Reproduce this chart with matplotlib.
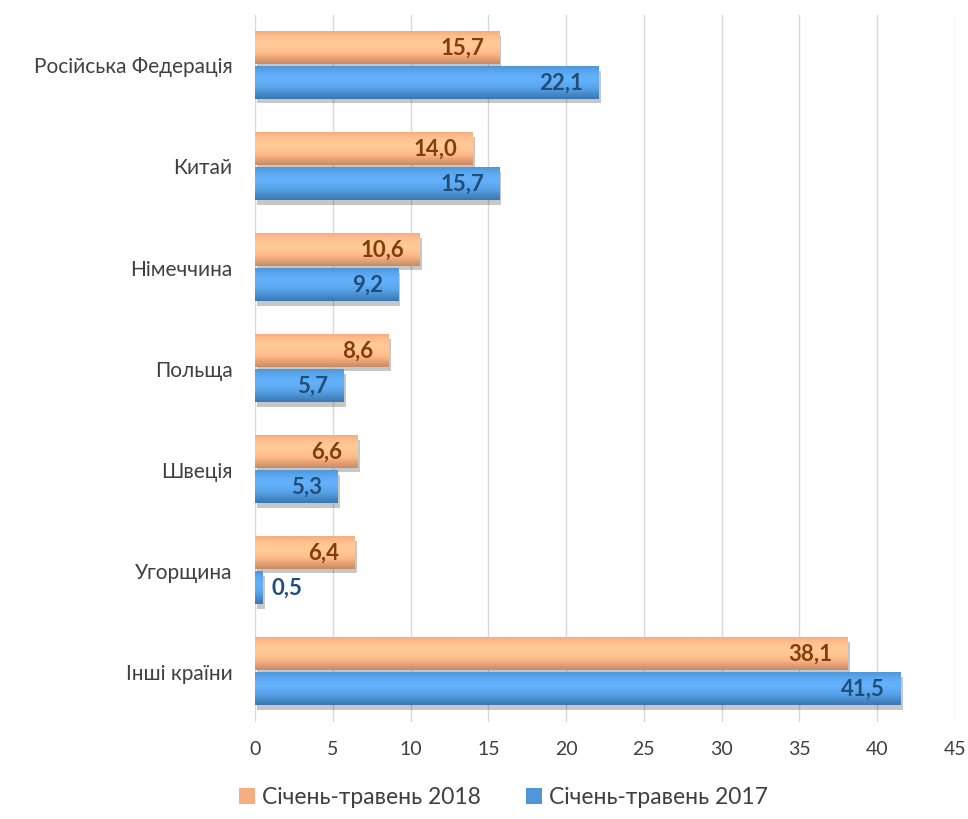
import matplotlib.pyplot as plt
import matplotlib.patheffects as pe
from matplotlib.colors import to_rgb
from matplotlib.patches import Patch
import numpy as np

plt.rcParams['font.family'] = ['Lato', 'DejaVu Sans']

categories = ["Російська Федерація", "Китай", "Німеччина", "Польща", "Швеція", "Угорщина", "Інші країни"]
values_2018 = [15.7, 14.0, 10.6, 8.6, 6.6, 6.4, 38.1]
values_2017 = [22.1, 15.7, 9.2, 5.7, 5.3, 0.5, 41.5]
label_2018 = "Січень-травень 2018"
label_2017 = "Січень-травень 2017"

orange = "#F4AE80"
blue = "#5097DA"
orange_text = "#843C0C"
blue_text = "#1F4E79"

fig = plt.figure(figsize=(9.68, 8.19), dpi=100)
ax = fig.add_axes([0.2634, 0.1184, 0.7232, 0.8633])

y = np.arange(len(categories))
h = 0.32
off = 0.175

shadow = [pe.SimplePatchShadow(offset=(1.5, -3), shadow_rgbFace="#000000", alpha=0.22), pe.Normal()]

b18 = ax.barh(y - off, values_2018, height=h, color=orange, linewidth=0, zorder=3)
b17 = ax.barh(y + off, values_2017, height=h, color=blue, linewidth=0, zorder=3)
for bars in (b18, b17):
    for r in bars:
        r.set_path_effects(shadow)

# soft vertical gradient on each bar
def gradient(col):
    c = np.array(to_rgb(col))
    t = np.linspace(0, 1, 32)
    # lighter towards the middle-top, darker at the bottom edge
    f = 1.0 + 0.10 * np.sin(np.pi * np.clip(t * 1.3, 0, 1)) - 0.12 * np.clip((t - 0.75) / 0.25, 0, 1)
    img = np.clip(c[None, :] * f[:, None] + (f[:, None] - 1) * 0.4, 0, 1)
    return img[:, None, :]

for vals, yy, col in ((values_2018, y - off, orange), (values_2017, y + off, blue)):
    g = gradient(col)
    for v, yi in zip(vals, yy):
        ax.imshow(g, extent=[0, v, yi + h / 2, yi - h / 2], aspect="auto", zorder=3.5,
                  interpolation="bilinear")

def fmt(v):
    return f"{v:.1f}".replace(".", ",")

for vals, yy, col in ((values_2018, y - off, orange_text), (values_2017, y + off, blue_text)):
    for v, yi in zip(vals, yy):
        if v < 2:
            ax.annotate(fmt(v), (v, yi), xytext=(6, 0), textcoords="offset points",
                        ha="left", va="center", fontsize=16, fontweight="bold", color=col, zorder=5)
        else:
            ax.annotate(fmt(v), (v, yi), xytext=(-11, 0), textcoords="offset points",
                        ha="right", va="center", fontsize=16, fontweight="bold", color=col, zorder=5)

ax.set_xlim(0, 45)
ax.set_xticks(np.arange(0, 46, 5))
ax.set_ylim(len(categories) - 0.5, -0.5)
ax.set_yticks(y)
ax.set_yticklabels(categories)
ax.tick_params(axis="y", length=0, pad=16, labelsize=15, labelcolor="#404040")
ax.tick_params(axis="x", length=0, pad=14, labelsize=14, labelcolor="#404040")
ax.grid(axis="x", color="#D9D9D9", linewidth=1, zorder=0)
ax.set_axisbelow(True)
for s in ax.spines.values():
    s.set_visible(False)

handles = [Patch(facecolor=orange), Patch(facecolor=blue)]
fig.legend(handles=handles, labels=[label_2018, label_2017], loc="lower center",
           bbox_to_anchor=(0.52, -0.012), ncol=2, frameon=False, fontsize=16.5,
           handlelength=0.7, handleheight=0.7, handletextpad=0.3, columnspacing=2.0,
           labelcolor="#404040")

fig.savefig("out.png", dpi=100)
